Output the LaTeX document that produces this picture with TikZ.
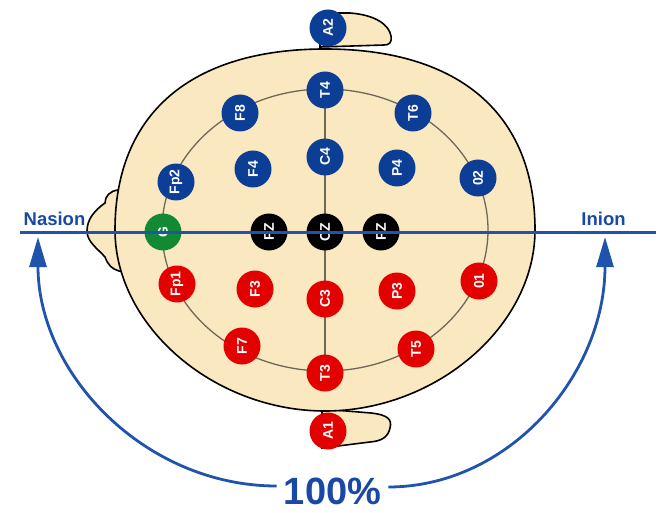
\documentclass[tikz,border=0pt]{standalone}
\usepackage{fontspec}
\setmainfont{Liberation Sans}
\usetikzlibrary{arrows.meta}
\definecolor{skin}{RGB}{250,233,192}
\definecolor{elblue}{RGB}{12,62,150}
\definecolor{elred}{RGB}{226,0,0}
\definecolor{elgreen}{RGB}{18,138,52}
\definecolor{lineblue}{RGB}{32,84,172}
\definecolor{textblue}{RGB}{26,72,166}
\definecolor{ringgray}{RGB}{110,104,88}
\pgfdeclarelayer{back}
\pgfsetlayers{back,main}
\tikzset{
  electrode/.style={circle, minimum size=37pt, inner sep=0pt, text=white, font=\bfseries\fontsize{14}{14}\selectfont, rotate=90},
  upper/.style={electrode, fill=elblue},
  lower/.style={electrode, fill=elred},
  middle/.style={electrode, fill=black},
  outline/.style={draw=black, line width=1.6pt, fill=skin},
  ring/.style={draw=ringgray, line width=1.3pt},
  bluearc/.style={draw=lineblue, line width=2.8pt, -{Triangle[width=17pt,length=30pt]}}
}

\begin{document}
\begin{tikzpicture}[x=10pt, y=10pt]
	\useasboundingbox (0,0) rectangle (66.3,51.2);
	%%%%% HEAD %%%%%
	\begin{pgfonlayer}{back}
		\draw[outline] (32.0,46.5) -- (32.0,49.9) -- (35.0,49.9) .. controls (37.6,49.7) and (38.9,48.7) .. (39.1,47.6) .. controls (39.2,46.9) and (38.9,46.7) .. (38.4,46.7) -- cycle;
		\draw[outline] (32.2,10.3) -- (37.1,9.9) .. controls (38.9,9.7) and (39.2,9.2) .. (39.0,8.4) .. controls (38.8,7.5) and (38.2,7.1) .. (37.0,7.0) -- (32.2,6.4) -- cycle;
		\draw[outline] (12.4,32.4) -- (11.8,32.2) .. controls (11.0,32.1) and (10.5,31.6) .. (10.5,30.9) .. controls (9.5,30.2) and (8.7,29.3) .. (8.7,28.1) .. controls (8.7,27.0) and (9.8,26.3) .. (10.5,25.5) .. controls (10.8,24.7) and (11.2,24.3) .. (11.9,24.1) -- (12.4,24.0) -- cycle;
		
		\draw[outline] (11.5,28.2) .. controls (11.5,39.8) and (19.06,46.3) .. (32.5,46.3) .. controls (45.94,46.3) and (53.5,39.8) .. (53.5,28.2) .. controls (53.5,18.6) and (43.63,10.1) .. (32.5,10.1) .. controls (21.37,10.1) and (11.5,18.6) .. cycle;
		\draw[ring] (32.5,28.2) ellipse (16.3 and 14.1);
	\end{pgfonlayer}
	
	%%%%% ELECTRODES %%%%%
	\node[upper] (A2) at (32.8, 48.4) {A2};
	\node[upper] (T4) at (32.5, 42.2) {T4};
	\node[upper] (F8) at (24.0, 39.9) {F8};
	\node[upper] (T6) at (41.3, 39.9) {T6};
	\node[upper] (Fp2) at (17.6, 33.0) {Fp2};
	\node[upper] (F4) at (25.3, 34.3) {F4};
	\node[upper] (C4) at (32.5, 35.5) {C4};
	\node[upper] (P4) at (39.7, 34.4) {P4};
	\node[upper] (o2) at (47.8, 33.4) {02};
	
	\node[electrode, fill=elgreen] (G) at (16.3, 28.0) {G};
	\node[middle] (FZ) at (26.9, 28.0) {FZ};
	\node[middle] (CZ) at (32.5, 28.0) {CZ};
	\node[middle] (PZ) at (38.1, 28.0) {PZ};
	
	\node[lower] (Fp1) at (17.7, 22.8) {Fp1};
	\node[lower] (F3) at (25.5, 22.3) {F3};
	\node[lower] (C3) at (32.5, 21.3) {C3};
	\node[lower] (P3) at (39.7, 22.1) {P3};
	\node[lower] (o1) at (47.9, 23.1) {01};
	\node[lower] (F7) at (24.2, 16.6) {F7};
	\node[lower] (T3) at (32.5, 13.9) {T3};
	\node[lower] (T5) at (41.6, 16.3) {T5};
	\node[lower] (A1) at (32.8, 8.1) {A1};
	
	\begin{pgfonlayer}{back}
		\draw[ring] (T4.center) -- (T3.center);
	\end{pgfonlayer}
	
	%%%%% MIDLINE %%%%%
	\coordinate (nasion) at (2.0, 28.0);
	\coordinate (inion) at (65.6, 28.0);
	\draw[lineblue, line width=3pt] (nasion) -- (inion);
	\node[text=textblue, font=\bfseries\fontsize{18.5}{18.5}\selectfont, anchor=base] (nasionlabel) at (5.45, 28.7) {Nasion};
	\node[text=textblue, font=\bfseries\fontsize{18.5}{18.5}\selectfont, anchor=base] (inionlabel) at (60.35, 28.7) {Inion};
	
	%%%%% 100 % %%%%%
	\node[text=textblue, font=\bfseries\fontsize{38}{38}\selectfont, inner sep=7pt] (pct) at (33.25, 2.1) {100\%};
	\coordinate (lefttip) at (3.8, 27.5);
	\coordinate (righttip) at (60.5, 27.5);
	\draw[bluearc] ([yshift=5pt]pct.west) .. controls (14.5, 2.6) and (3.8, 13.8) .. (lefttip);
	\draw[bluearc] ([yshift=4pt]pct.east) .. controls (50.9, 2.5) and (60.5, 13.7) .. (righttip);
\end{tikzpicture}
\end{document}
